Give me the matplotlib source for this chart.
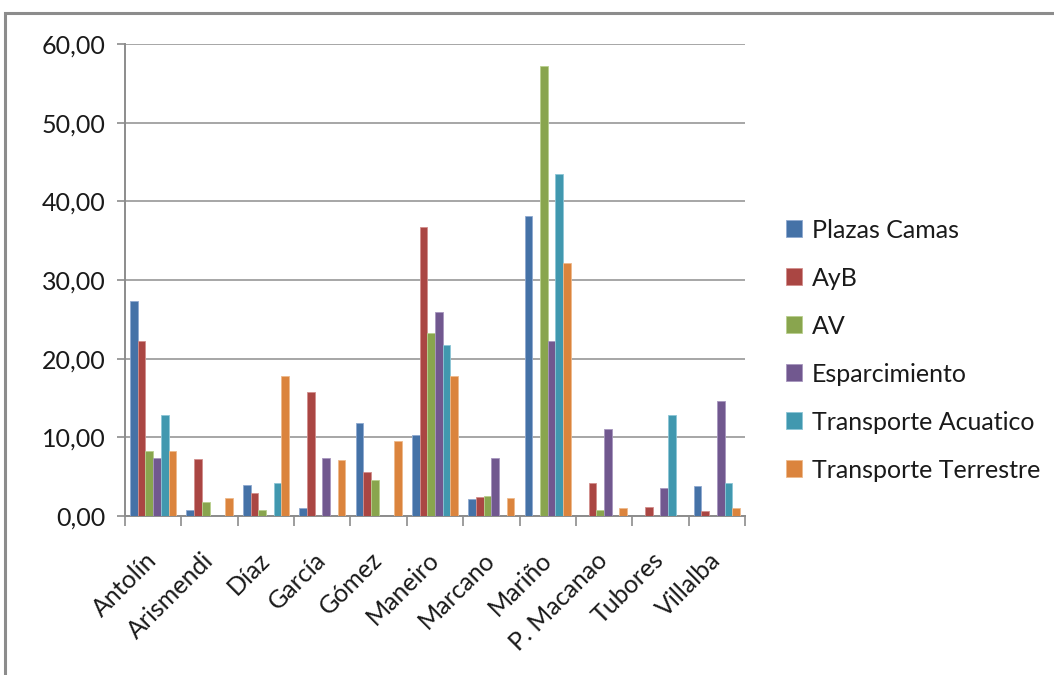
import matplotlib
matplotlib.use("Agg")
import matplotlib.pyplot as plt
import numpy as np
from matplotlib.patches import Rectangle
from matplotlib.ticker import FuncFormatter, FixedLocator
from matplotlib.transforms import ScaledTranslation

categories = ["Antolín", "Arismendi", "Díaz", "García", "Gómez", "Maneiro",
              "Marcano", "Mariño", "P. Macanao", "Tubores", "Villalba"]
plazas_camas = [27.3, 0.7, 3.9, 1.0, 11.8, 10.3, 2.1, 38.1, 0.0, 0.0, 3.8]
ayb = [22.3, 7.2, 2.9, 15.8, 5.6, 36.7, 2.4, 0.0, 4.2, 1.2, 0.6]
av = [8.3, 1.8, 0.8, 0.0, 4.6, 23.3, 2.6, 57.2, 0.8, 0.0, 0.0]
esparcimiento = [7.4, 0.0, 0.0, 7.4, 0.0, 25.9, 7.4, 22.2, 11.1, 3.6, 14.6]
transporte_acuatico = [12.9, 0.0, 4.2, 0.0, 0.0, 21.7, 0.0, 43.5, 0.0, 12.9, 4.2]
transporte_terrestre = [8.2, 2.3, 17.8, 7.1, 9.5, 17.8, 2.3, 32.1, 1.0, 0.0, 1.0]

series_names = ["Plazas Camas", "AyB", "AV", "Esparcimiento",
                "Transporte Acuatico", "Transporte Terrestre"]
series = [plazas_camas, ayb, av, esparcimiento, transporte_acuatico, transporte_terrestre]
colors = ["#4572A7", "#AA4643", "#89A54E", "#71588F", "#4198AF", "#DB843D"]
edges = ["#8FA9D0", "#D28E8C", "#B9CF8E", "#A796BE", "#8CC6D6", "#EEB98C"]

plt.rcParams['font.family'] = ['Lato', 'DejaVu Sans']
FS = 18

fig = plt.figure(figsize=(10.54, 6.75), dpi=100)
fig.patches.append(Rectangle((5/1054, -0.1), 1.2, (675-13)/675 + 0.1,
                             transform=fig.transFigure, fill=False,
                             edgecolor="#8C8C8C", linewidth=2.2))

ax = fig.add_axes([125/1054, 1-516/675, (745-125)/1054, (516-44)/675])
n = len(categories)
x = np.arange(n)
group = 0.82
bw = group / len(series)
for i, (vals, c, ec, name) in enumerate(zip(series, colors, edges, series_names)):
    ax.bar(x - group/2 + bw*(i+0.5), vals, width=bw, color=c, edgecolor=ec,
           linewidth=0.6, label=name, zorder=3)

ax.set_xlim(-0.5, n-0.5)
ax.set_ylim(0, 60)
ax.set_yticks(np.arange(0, 61, 10))
ax.yaxis.set_major_formatter(FuncFormatter(lambda v, p: f"{v:.2f}".replace(".", ",")))
ax.grid(axis='y', color="#A6A6A6", linewidth=1.4, zorder=0)
ax.set_axisbelow(True)
for s in ["top", "right"]:
    ax.spines[s].set_visible(False)
for s in ["left", "bottom"]:
    ax.spines[s].set_color("#8C8C8C")
    ax.spines[s].set_linewidth(1.4)

ax.xaxis.set_major_locator(FixedLocator(np.arange(-0.5, n, 1.0)))
ax.xaxis.set_minor_locator(FixedLocator(x))
ax.set_xticklabels([])
labels = ax.set_xticklabels(categories, minor=True, rotation=45, ha='right', va='center',
                            rotation_mode='anchor', fontsize=FS, color="#1A1A1A")
offset = ScaledTranslation(5/100, 0, fig.dpi_scale_trans)
for lbl in ax.get_xticklabels(minor=True):
    lbl.set_transform(lbl.get_transform() + offset)
ax.tick_params(axis='x', which='major', length=7, color="#8C8C8C", width=1.2)
ax.tick_params(axis='x', which='minor', length=0, pad=29)
ax.tick_params(axis='y', length=6, color="#8C8C8C", width=1.2, labelsize=FS,
               labelcolor="#1A1A1A", pad=8)

leg = fig.legend(loc='upper left', bbox_to_anchor=(763/1054, 1-196/675),
                 frameon=False, fontsize=FS, handlelength=0.65, handleheight=0.65,
                 handletextpad=0.42, labelspacing=1.0, labelcolor="#1A1A1A")

fig.savefig("out.png", dpi=100)
